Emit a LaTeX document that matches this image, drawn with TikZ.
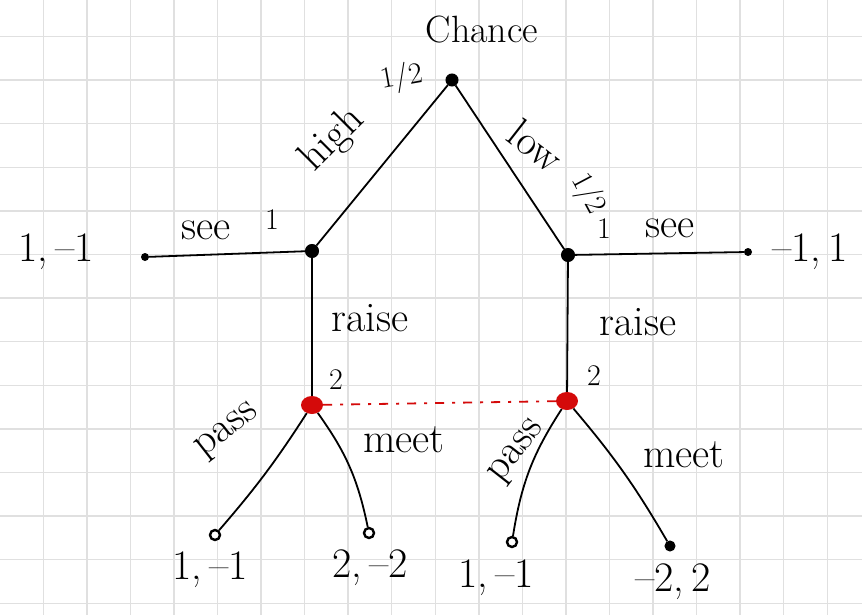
\documentclass[tikz,border=0pt]{standalone}
\usepackage{fontspec}
\usetikzlibrary{shapes.geometric}
\begin{document}
\definecolor{gridgray}{RGB}{224,224,224}
\definecolor{penred}{RGB}{212,10,10}
\begin{tikzpicture}[x=1pt,y=-1pt,
  edge/.style={line width=1.8pt,black},
  dec/.style={circle,fill=black,draw=black,line width=1pt,inner sep=0pt,minimum size=12pt},
  leaf/.style={circle,draw=black,line width=2.4pt,fill=white,inner sep=0pt,minimum size=10pt},
  tiny/.style={circle,fill=black,inner sep=0pt,minimum size=8pt},
  rednode/.style={ellipse,fill=penred,inner sep=0pt,minimum width=22pt,minimum height=18pt},
  lbl/.style={font=\fontsize{42}{44}\selectfont,inner sep=1pt},
  num/.style={font=\fontsize{42}{44}\selectfont,inner sep=1pt},
  slbl/.style={font=\fontsize{30}{32}\selectfont,inner sep=1pt}]
\useasboundingbox (0,0) rectangle (862,615);
\fill[white] (0,0) rectangle (862,615);
\foreach \i in {0,...,18} {\draw[gridgray,line width=1.4pt] ({43.3+43.55*\i},0) -- ({43.3+43.55*\i},615);}
\foreach \j in {0,...,13} {\draw[gridgray,line width=1.4pt] (0,{36.5+43.6*\j}) -- (862,{36.5+43.6*\j});}

% nodes
\node[dec] (c) at (452,80) {};
\node[dec,minimum size=13pt] (a) at (312,251) {};
\node[dec,minimum size=13pt] (b) at (568,255) {};
\node[tiny] (ta) at (145,257) {};
\node[tiny] (tb) at (748,252) {};
\node[rednode] (ra) at (312,405) {};
\node[rednode] (rb) at (567,401) {};
\node[leaf] (l1) at (215,535) {};
\node[leaf] (l2) at (369,533) {};
\node[leaf] (l3) at (512,542) {};
\node[dec,minimum size=10pt] (l4) at (670,546) {};

% edges
\draw[edge] (c) -- (a);
\draw[edge] (c) -- (b);
\draw[edge] (a) -- (ta);
\draw[edge] (b) -- (tb);
\draw[edge] (a) -- (ra);
\draw[edge] (b) -- (rb);
\draw[edge] (ra) to[bend left=4] (l1);
\draw[edge] (ra) to[bend left=12] (l2);
\draw[edge] (rb) to[bend right=12] (l3);
\draw[edge] (rb) to[bend left=5] (l4);
\draw[penred,line width=1.8pt,dash pattern=on 9pt off 8pt on 3pt off 8pt] (ra) -- (rb);

% labels
\node[font=\fontsize{38}{40}\selectfont,inner sep=1pt] (tchance) at (482,30) {Chance};
\node[lbl,rotate=45] (thigh) at (333,140) {high};
\node[slbl,rotate=10] (thalf) at (402,78) {1/2};
\node[lbl,rotate=-38] (tlow) at (536,146) {low};
\node[slbl,rotate=-62] (tlhalf) at (588,194) {1/2};
\node[slbl] (tp1a) at (272,220) {1};
\node[slbl] (tp1b) at (604,229) {1};
\node[lbl] (tseea) at (206,230) {see};
\node[lbl] (tseeb) at (670,228) {see};
\node[num] (tpa) at (56,252) {1,\,–1};
\node[num] (tpb) at (810,252) {–1,\,1};
\node[lbl] (traisea) at (370,318) {raise};
\node[lbl] (traiseb) at (638,322) {raise};
\node[slbl] (t2a) at (336,380) {2};
\node[slbl] (t2b) at (594,376) {2};
\node[lbl,rotate=38] (tpassa) at (228,432) {pass};
\node[lbl,rotate=52] (tpassb) at (518,452) {pass};
\node[lbl] (tmeeta) at (404,440) {meet};
\node[lbl] (tmeetb) at (684,455) {meet};
\node[num] (tl1) at (210,570) {1,\,–1};
\node[num] (tl2) at (370,568) {2,\,–2};
\node[num] (tl3) at (496,578) {1,\,–1};
\node[num] (tl4) at (673,582) {–2,\,2};
\end{tikzpicture}
\end{document}
